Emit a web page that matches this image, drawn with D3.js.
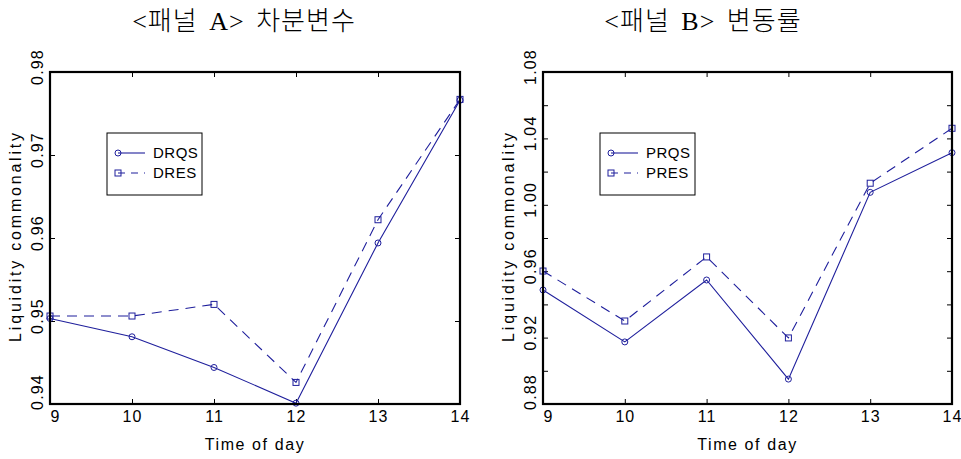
<!DOCTYPE html>
<html>
<head>
<meta charset="utf-8">
<script src="https://cdn.jsdelivr.net/npm/d3@7"></script>
<style>
  body { margin: 0; background: #fff; }
  svg { display: block; }
  .tick text { font-family: "Liberation Sans", Arial, sans-serif; font-size: 16px; letter-spacing: 1px; fill: #000; }
</style>
</head>
<body>
<div id="chart"></div>
<script>
// time of day (x axis)
const hours = [9, 10, 11, 12, 13, 14];

// panel A: differenced variables
const drqs = [0.9503, 0.9481, 0.9444, 0.9401, 0.9594, 0.9766];
const dres = [0.9506, 0.9506, 0.9520, 0.9426, 0.9622, 0.9767];

// panel B: rates of change
const prqs = [0.9487, 0.9174, 0.9547, 0.8950, 1.0075, 1.0314];
const pres = [0.9601, 0.9300, 0.9686, 0.9198, 1.0130, 1.0461];

const panelTitles = ["<패널 A> 차분변수", "<패널 B> 변동률"];
const legendNames = [["DRQS", "DRES"], ["PRQS", "PRES"]];
const yDomains = [[0.94, 0.98], [0.88, 1.08]];
const yTickLabelsA = [0.94, 0.95, 0.96, 0.97, 0.98];
const yTickMarksB = [0.88, 0.90, 0.92, 0.94, 0.96, 0.98, 1.00, 1.02, 1.04, 1.06, 1.08];
const yTickLabelsB = [0.88, 0.92, 0.96, 1.00, 1.04, 1.08];

const lineColor = "#1f1f9c";
const width = 961, height = 459;

const svg = d3.select("#chart").append("svg")
    .attr("width", width)
    .attr("height", height);

function drawPanel(p) {
    let x = d3.scaleLinear().domain([9, 14]).range([p.left, p.right]);
    let y = d3.scaleLinear().domain(p.yDomain).range([p.bottom, p.top]);
    let g = svg.append("g");

    // title
    g.append("text")
        .attr("x", p.titleX)
        .attr("y", 30)
        .attr("text-anchor", "middle")
        .style("font-family", "'Liberation Serif', 'Noto Sans CJK KR', serif")
        .style("font-size", "26px")
        .style("font-weight", "300")
        .style("word-spacing", "4px")
        .style("letter-spacing", "1px")
        .text(p.title);

    // inward ticks on all four sides
    let tickLen = 5;
    let xb = d3.axisTop(x).tickValues(hours).tickSize(tickLen).tickFormat("");
    g.append("g").attr("transform", `translate(0,${p.bottom})`).call(xb)
        .call(a => a.select(".domain").remove());
    let xt = d3.axisBottom(x).tickValues(hours).tickSize(tickLen).tickFormat("");
    g.append("g").attr("transform", `translate(0,${p.top})`).call(xt)
        .call(a => a.select(".domain").remove());
    let yl = d3.axisRight(y).tickValues(p.yTickMarks).tickSize(tickLen).tickFormat("");
    g.append("g").attr("transform", `translate(${p.left},0)`).call(yl)
        .call(a => a.select(".domain").remove());
    let yr = d3.axisLeft(y).tickValues(p.yTickMarks).tickSize(tickLen).tickFormat("");
    g.append("g").attr("transform", `translate(${p.right},0)`).call(yr)
        .call(a => a.select(".domain").remove());

    // x tick labels
    let xLab = d3.axisBottom(x).tickValues(hours).tickSize(0).tickPadding(7).tickFormat(d3.format("d"));
    let xg = g.append("g").attr("transform", `translate(0,${p.bottom})`).call(xLab);
    xg.select(".domain").remove();
    xg.selectAll(".tick text").filter(d => d === 9).attr("dx", 5);

    // y tick labels, rotated
    g.selectAll(".ylab")
        .data(p.yTickLabels)
        .enter()
        .append("text")
        .attr("class", "ylab")
        .attr("transform", d => `translate(${p.left - 7},${y(d)}) rotate(-90)`)
        .attr("text-anchor", "middle")
        .attr("dx", d => d === p.yDomain[0] ? 12 : 5)
        .style("font-family", "'Liberation Sans', Arial, sans-serif")
        .style("font-size", "16px")
        .style("letter-spacing", "1.2px")
        .text(d => d3.format(p.yFormat)(d));

    // axis titles
    g.append("text")
        .attr("x", (p.left + p.right) / 2)
        .attr("y", 450)
        .attr("text-anchor", "middle")
        .style("font-family", "'Liberation Sans', Arial, sans-serif")
        .style("font-size", "16px")
        .style("letter-spacing", "1.6px")
        .text("Time of day");
    g.append("text")
        .attr("transform", `translate(${p.left - 29},${(p.top + p.bottom) / 2 - 2}) rotate(-90)`)
        .attr("text-anchor", "middle")
        .style("font-family", "'Liberation Sans', Arial, sans-serif")
        .style("font-size", "16px")
        .style("letter-spacing", "2.8px")
        .text("Liquidity commonality");

    // series
    let line = d3.line().x((d, i) => x(hours[i])).y(d => y(d));
    g.append("path").datum(p.solid)
        .attr("d", line)
        .attr("fill", "none")
        .attr("stroke", lineColor)
        .attr("stroke-width", 1.1);
    g.append("path").datum(p.dashed)
        .attr("d", line)
        .attr("fill", "none")
        .attr("stroke", lineColor)
        .attr("stroke-width", 1.1)
        .attr("stroke-dasharray", "10,7");

    g.selectAll(".circ").data(p.solid).enter().append("circle")
        .attr("cx", (d, i) => x(hours[i]))
        .attr("cy", d => y(d))
        .attr("r", 3)
        .attr("fill", "none")
        .attr("stroke", lineColor)
        .attr("stroke-width", 1);
    g.selectAll(".sq").data(p.dashed).enter().append("rect")
        .attr("x", (d, i) => x(hours[i]) - 3)
        .attr("y", d => y(d) - 3)
        .attr("width", 6)
        .attr("height", 6)
        .attr("fill", "none")
        .attr("stroke", lineColor)
        .attr("stroke-width", 1);

    // frame
    g.append("rect")
        .attr("x", p.left)
        .attr("y", p.top)
        .attr("width", p.right - p.left)
        .attr("height", p.bottom - p.top)
        .attr("fill", "none")
        .attr("stroke", "#000")
        .attr("stroke-width", 2.2);

    // legend
    let lx = p.left + 57, ly = 133;
    let lg = g.append("g").attr("transform", `translate(${lx},${ly})`);
    lg.append("rect")
        .attr("width", 95)
        .attr("height", 62)
        .attr("fill", "#fff")
        .attr("stroke", "#000")
        .attr("stroke-width", 1);
    p.names.forEach((name, i) => {
        let row = lg.append("g").attr("transform", `translate(0,${20 + i * 20})`);
        row.append("line")
            .attr("x1", 11).attr("x2", 38)
            .attr("stroke", lineColor)
            .attr("stroke-width", 1.1)
            .attr("stroke-dasharray", i === 0 ? null : "7,6");
        if (i === 0) {
            row.append("circle").attr("cx", 11).attr("r", 3)
                .attr("fill", "none").attr("stroke", lineColor);
        } else {
            row.append("rect").attr("x", 8).attr("y", -3).attr("width", 6).attr("height", 6)
                .attr("fill", "none").attr("stroke", lineColor);
        }
        row.append("text")
            .attr("x", 46)
            .attr("y", 5)
            .style("font-family", "'Liberation Sans', Arial, sans-serif")
            .style("font-size", "15px")
            .style("letter-spacing", "0.5px")
            .text(name);
    });
}

drawPanel({
    left: 50, right: 460, top: 72, bottom: 404, titleX: 244,
    title: panelTitles[0], names: legendNames[0], yDomain: yDomains[0],
    yTickMarks: yTickLabelsA, yTickLabels: yTickLabelsA, yFormat: ".2f",
    solid: drqs, dashed: dres
});
drawPanel({
    left: 543, right: 952, top: 72, bottom: 404, titleX: 703,
    title: panelTitles[1], names: legendNames[1], yDomain: yDomains[1],
    yTickMarks: yTickMarksB, yTickLabels: yTickLabelsB, yFormat: ".2f",
    solid: prqs, dashed: pres
});
</script>
</body>
</html>
